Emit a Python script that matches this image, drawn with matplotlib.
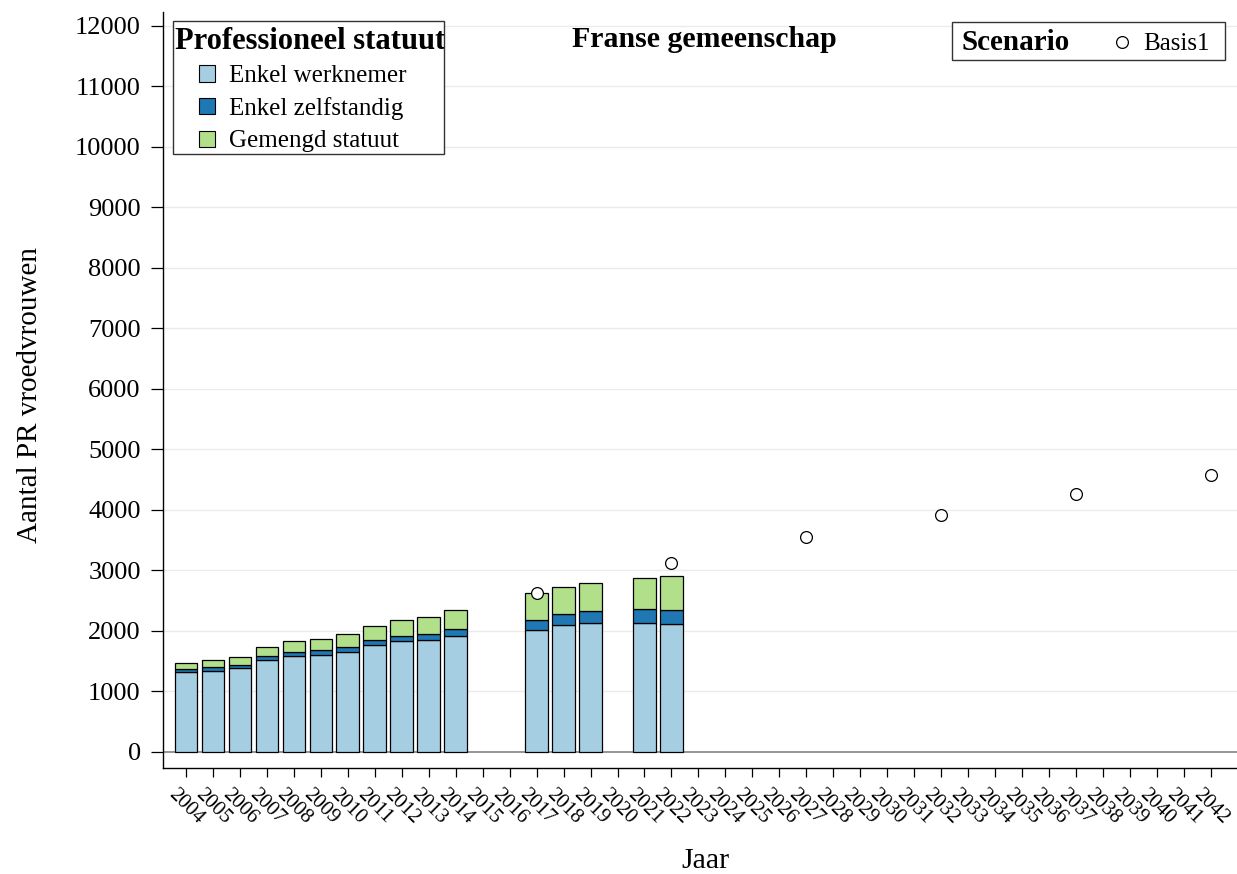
import matplotlib
matplotlib.use("Agg")
import matplotlib.pyplot as plt
from matplotlib.patches import Rectangle
from matplotlib.lines import Line2D
import numpy as np

# ---------------- data ----------------
years = [str(y) for y in range(2004, 2043)]
bar_years = ["2004", "2005", "2006", "2007", "2008", "2009", "2010", "2011",
             "2012", "2013", "2014", "2017", "2018", "2019", "2021", "2022"]
werknemer = [1321, 1343, 1392, 1525, 1586, 1608, 1658, 1768, 1829, 1857, 1923,
             2022, 2105, 2127, 2133, 2117]
zelfstandig = [55, 61, 50, 55, 72, 72, 77, 83, 88, 94, 110,
               161, 177, 205, 232, 237]
gemengd = [88, 116, 133, 155, 177, 182, 210, 232, 266, 287, 321,
           441, 448, 458, 508, 547]
scen_years = ["2017", "2022", "2027", "2032", "2037", "2042"]
basis1 = [2624, 3130, 3555, 3919, 4266, 4581]

series_labels = ["Enkel werknemer", "Enkel zelfstandig", "Gemengd statuut"]
colors = ["#A6CEE3", "#1F78B4", "#B2DF8A"]
yticks = list(range(0, 12001, 1000))

# ---------------- figure ----------------
plt.rcParams['font.family'] = ['Liberation Serif', 'DejaVu Serif']
W, H = 1237, 874
fig = plt.figure(figsize=(W / 100, H / 100), dpi=100)
ax = fig.add_axes([163 / W, 1 - 768 / H, 1 - 163 / W, (768 - 12) / H])

pos = {y: i for i, y in enumerate(years)}
xb = np.array([pos[y] for y in bar_years])
w = np.array(werknemer)
z = np.array(zelfstandig)
g = np.array(gemengd)

for yv in yticks[1:]:
    ax.axhline(yv, color="#EBEBEB", lw=1.0, zorder=0)
ax.axhline(0, color="#8C8C8C", lw=1.3, zorder=1)

bw = 0.84
ax.bar(xb, w, width=bw, color=colors[0], edgecolor="black", linewidth=0.9, zorder=2)
ax.bar(xb, z, width=bw, bottom=w, color=colors[1], edgecolor="black", linewidth=0.9, zorder=2)
ax.bar(xb, g, width=bw, bottom=w + z, color=colors[2], edgecolor="black", linewidth=0.9, zorder=2)

xs = [pos[y] for y in scen_years]
ax.plot(xs, basis1, linestyle="none", marker="o", markersize=8.5,
        markerfacecolor="white", markeredgecolor="black", markeredgewidth=0.9, zorder=3)

ax.set_xlim(-0.853, 38.97)
ax.set_ylim(-265, 12231)
ax.set_xticks(range(len(years)))
ax.set_xticklabels(years, rotation=-45, ha="center", va="top", fontsize=15)
ax.set_yticks(yticks)
ax.set_yticklabels([str(v) for v in yticks], fontsize=19)
ax.tick_params(axis="y", length=9, width=0.9, pad=7)
ax.tick_params(axis="x", length=6.5, width=0.9, pad=6)
for s in ["top", "right"]:
    ax.spines[s].set_visible(False)
for s in ["left", "bottom"]:
    ax.spines[s].set_linewidth(1.0)

def fx(px):
    return px / W

def fy(py):
    return 1 - py / H

T = fig.transFigure
fig.text(fx(704), fy(47), "Franse gemeenschap", ha="center", va="baseline",
         fontsize=21.5, fontweight="bold")
fig.text(fx(30), fy(395), "Aantal PR vroedvrouwen", rotation=90, ha="center",
         va="center", fontsize=21)
fig.text(fx(705), fy(868), "Jaar", ha="center", va="baseline", fontsize=21.5)

# legend 1
box1 = Rectangle((fx(173), fy(154)), fx(444) - fx(173), fy(21) - fy(154),
                 transform=T, facecolor="white", edgecolor="#333333", lw=1.0, zorder=5)
fig.patches.append(box1)
t = fig.text(fx(175), fy(49), "Professioneel statuut", ha="left", va="baseline",
             fontsize=22, fontweight="bold", zorder=6)
t.set_clip_path(box1)
ycent = [73.5, 106, 139]
for lab, col, yc in zip(series_labels, colors, ycent):
    fig.patches.append(Rectangle((fx(198.5), fy(yc + 8)), fx(16), 16 / H,
                                 transform=T, facecolor=col, edgecolor="black",
                                 lw=0.8, zorder=6))
    fig.text(fx(229), fy(yc), lab, ha="left", va="center_baseline", fontsize=18, zorder=6)

# legend 2
box2 = Rectangle((fx(951.5), fy(59.5)), fx(1225) - fx(951.5), fy(21.5) - fy(59.5),
                 transform=T, facecolor="white", edgecolor="#333333", lw=1.0, zorder=5)
fig.patches.append(box2)
fig.text(fx(961.5), fy(50), "Scenario", ha="left", va="baseline", fontsize=21,
         fontweight="bold", zorder=6)
fig.lines.append(Line2D([fx(1121.7)], [fy(42)], transform=T, linestyle="none",
                        marker="o", markersize=8.5, markerfacecolor="white",
                        markeredgecolor="black", markeredgewidth=0.9, zorder=6))
fig.text(fx(1143), fy(50), "Basis1", ha="left", va="baseline", fontsize=18, zorder=6)

fig.savefig("out.png", dpi=100)
